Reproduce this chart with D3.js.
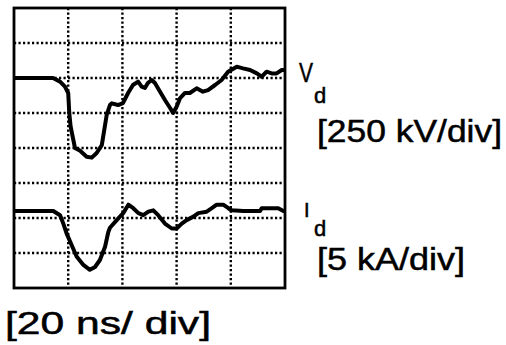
<!DOCTYPE html>
<html>
<head>
<meta charset="utf-8">
<script src="https://cdn.jsdelivr.net/npm/d3@7"></script>
<style>
  body { margin: 0; background: #fff; }
  svg { display: block; }
  text { font-family: "Liberation Sans", Arial, sans-serif; fill: #000; stroke: #000; stroke-width: 0.5px; }
</style>
</head>
<body>
<div id="wrapper"></div>
<script>
// time in ns (20 ns/div), voltage in kV (250 kV/div), current in kA (5 kA/div)
const vTime = [0, 14.4, 17.0, 18.8, 20.0, 20.4, 20.9, 21.9, 22.5, 24.4, 26.8, 28.7, 30.5, 32.4, 34.2, 35.4, 36.1, 38.4, 40.2, 42.1, 43.9, 45.8, 47.1, 48.3, 49.4, 50.8, 52.0, 53.9, 55.7, 57.6, 58.7, 60.0, 61.3, 63.1, 64.9, 67.4, 69.7, 71.6, 74.2, 76.6, 79.0, 82.2, 84.5, 87.1, 89.6, 91.4, 93.2, 95.1, 96.9, 98.8, 100]
const vValues = [0, 0, -26, -62, -107, -250, -348, -443, -500, -519, -562, -569, -536, -479, -264, -193, -181, -193, -179, -107, -50, -26, -62, -71, -36, -14, -36, -98, -157, -214, -250, -205, -143, -107, -107, -74, -98, -86, -50, -14, 45, 81, 69, 57, 33, 9, 45, 33, 33, 57, 57]

const iTime = [0, 14.5, 17.0, 18.2, 19.4, 21.3, 23.1, 25.6, 28.0, 29.9, 31.7, 33.6, 34.8, 35.4, 37.9, 40.3, 42.2, 44.0, 45.9, 47.7, 49.6, 51.4, 53.2, 55.7, 58.2, 60.0, 61.9, 63.7, 66.2, 68.0, 71.1, 73.0, 74.8, 77.2, 79.1, 80.3, 84.6, 90.8, 91.4, 97.5, 99.4, 100]
const iValues = [0, 0, -0.6, -1.8, -3.2, -4.9, -6.5, -7.7, -8.4, -8.0, -7.0, -5.1, -3.0, -2.4, -1.3, -0.3, 0.9, 0.4, -0.3, -0.6, -0.1, 0.1, -0.6, -1.8, -2.5, -2.5, -1.8, -1.3, -0.8, -0.3, -0.1, 0.4, 0.9, 0.9, 0.4, 0.1, 0, 0, 0.4, 0.4, 0, 0]

const vData = vTime.map((t, i) => ({ t, v: vValues[i] }))
const iData = iTime.map((t, i) => ({ t, v: iValues[i] }))

const dms = {
    width: 506,
    height: 345,
    left: 14,
    right: 285,
    top: 8,
    bottom: 288
}

const svg = d3.select('#wrapper')
    .append('svg')
        .attr('width', dms.width)
        .attr('height', dms.height)

// scales: 5 divisions across, 8 divisions up
const xScale = d3.scaleLinear().domain([0, 100]).range([dms.left, dms.right])
const divScale = d3.scaleLinear().domain([0, 8]).range([dms.bottom, dms.top])
const vScale = d3.scaleLinear().domain([-6 * 250, 2 * 250]).range([dms.bottom, dms.top])
const iScale = d3.scaleLinear().domain([-2.2 * 5, 5.8 * 5]).range([dms.bottom, dms.top])

// dotted graticule
const grid = svg.append('g')
    .attr('stroke', '#000')
    .attr('stroke-width', 2.4)
    .attr('stroke-dasharray', '2.2,2.3')

grid.selectAll('.vline')
    .data(xScale.ticks(5).slice(1, -1))
    .join('line')
        .attr('x1', d => xScale(d))
        .attr('x2', d => xScale(d))
        .attr('y1', dms.top)
        .attr('y2', dms.bottom)

grid.selectAll('.hline')
    .data(divScale.ticks(8).slice(1, -1))
    .join('line')
        .attr('x1', dms.left)
        .attr('x2', dms.right)
        .attr('y1', d => divScale(d))
        .attr('y2', d => divScale(d))

// frame
svg.append('rect')
    .attr('x', dms.left)
    .attr('y', dms.top)
    .attr('width', dms.right - dms.left)
    .attr('height', dms.bottom - dms.top)
    .attr('fill', 'none')
    .attr('stroke', '#000')
    .attr('stroke-width', 2.8)

// traces
const vLine = d3.line()
    .x(d => xScale(d.t))
    .y(d => vScale(d.v))

const iLine = d3.line()
    .x(d => xScale(d.t))
    .y(d => iScale(d.v))

svg.append('path')
    .attr('d', vLine(vData))
    .attr('fill', 'none')
    .attr('stroke', '#000')
    .attr('stroke-width', 4)
    .attr('stroke-linejoin', 'round')

svg.append('path')
    .attr('d', iLine(iData))
    .attr('fill', 'none')
    .attr('stroke', '#000')
    .attr('stroke-width', 4)
    .attr('stroke-linejoin', 'round')

// labels
svg.append('text').attr('x', 299).attr('y', 82).style('font-size', '27px')
    .attr('textLength', 14).attr('lengthAdjust', 'spacingAndGlyphs').text('V')
svg.append('text').attr('x', 314).attr('y', 103).style('font-size', '22px').text('d')
svg.append('text').attr('x', 317).attr('y', 142).style('font-size', '31px')
    .attr('textLength', 185).attr('lengthAdjust', 'spacingAndGlyphs').text('[250 kV/div]')

svg.append('text').attr('x', 304).attr('y', 217).style('font-size', '20px').text('I')
svg.append('text').attr('x', 314).attr('y', 236).style('font-size', '22px').text('d')
svg.append('text').attr('x', 317).attr('y', 270).style('font-size', '31px')
    .attr('textLength', 148).attr('lengthAdjust', 'spacingAndGlyphs').text('[5 kA/div]')

svg.append('text').attr('x', 5).attr('y', 334).style('font-size', '31px')
    .attr('textLength', 206).attr('lengthAdjust', 'spacingAndGlyphs').text('[20 ns/ div]')
</script>
</body>
</html>
